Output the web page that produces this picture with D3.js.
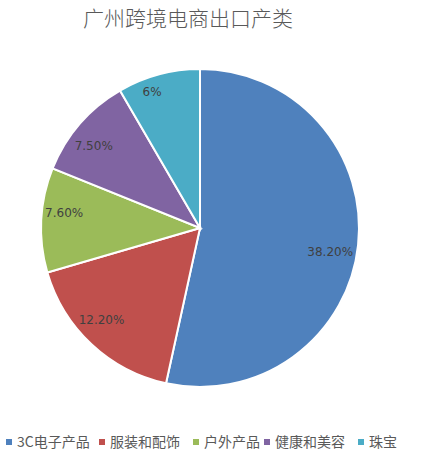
<!DOCTYPE html>
<html>
<head>
  <meta charset="UTF-8">
  <title>广州跨境电商出口产类</title>
  <script src="https://d3js.org/d3.v7.min.js"></script>
  <style>
    body { margin: 0; background: white; }
    svg { display: block; font-family: "Noto Sans CJK SC", "DejaVu Sans", sans-serif; }
  </style>
</head>
<body>
  <svg id="chart" width="437" height="457"></svg>
  <script>
    // chart data
    const categories = ["3C电子产品", "服装和配饰", "户外产品", "健康和美容", "珠宝"];
    const values = [38.2, 12.2, 7.6, 7.5, 6];
    const labels = ["38.20%", "12.20%", "7.60%", "7.50%", "6%"];

    // styling / layout
    const colors = ["#4f81bd", "#c0504d", "#9bbb59", "#8064a2", "#4bacc6"];
    const labelNudge = [[-3, 9], [-7, -6], [-2, -8], [-5, 6], [-13, -7]]; // excel "best fit" placement
    const legendPos = [6, 99, 193, 264, 358];

    const width = 437, height = 457;
    const cx = 200, cy = 228, radius = 159;

    const svg = d3.select("#chart");

    // title
    svg.append("text")
      .attr("x", 188)
      .attr("y", 26)
      .attr("text-anchor", "middle")
      .attr("fill", "#595959")
      .style("font-size", "21px")
      .style("font-weight", "300")
      .text("广州跨境电商出口产类");

    const pie = d3.pie().sort(null).value(d => d)(values);
    const arc = d3.arc().innerRadius(0).outerRadius(radius);
    const labelArc = d3.arc().innerRadius(134).outerRadius(134);

    const g = svg.append("g").attr("transform", `translate(${cx},${cy})`);

    g.selectAll("path")
      .data(pie)
      .enter()
      .append("path")
      .attr("d", arc)
      .attr("fill", (d, i) => colors[i])
      .attr("stroke", "white")
      .attr("stroke-width", 2);

    g.selectAll("text.lbl")
      .data(pie)
      .enter()
      .append("text")
      .attr("class", "lbl")
      .attr("transform", (d, i) => {
        const c = labelArc.centroid(d);
        return `translate(${c[0] + labelNudge[i][0]},${c[1] + labelNudge[i][1]})`;
      })
      .attr("text-anchor", "middle")
      .attr("dy", "0.35em")
      .attr("fill", "#404040")
      .style("font-size", "12px")
      .style("font-family", "'DejaVu Sans', sans-serif")
      .text((d, i) => labels[i]);

    // legend
    const legend = svg.append("g").attr("transform", "translate(0,442)");
    const item = legend.selectAll("g")
      .data(categories)
      .enter()
      .append("g")
      .attr("transform", (d, i) => `translate(${legendPos[i]},0)`);
    item.append("rect")
      .attr("x", 0).attr("y", -3)
      .attr("width", 6).attr("height", 6)
      .attr("fill", (d, i) => colors[i]);
    item.append("text")
      .attr("x", 11)
      .attr("dy", "0.35em")
      .attr("fill", "#595959")
      .style("font-size", "14px")
      .text(d => d);
  </script>
</body>
</html>
